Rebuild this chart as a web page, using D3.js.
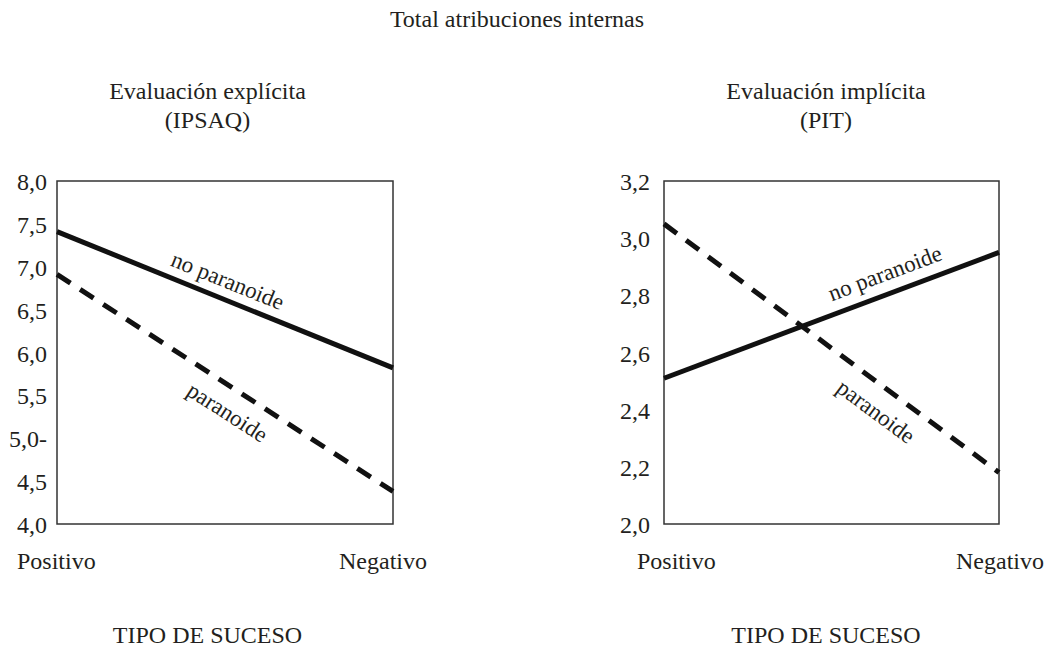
<!DOCTYPE html>
<html>
<head>
<meta charset="utf-8">
<script src="https://cdn.jsdelivr.net/npm/d3@7"></script>
<style>
  body { margin: 0; background: #fff; }
  text { font-family: "Liberation Serif", "Times New Roman", serif; fill: #231f20; }
</style>
</head>
<body>
<div id="chart"></div>
<script>
// Data
const categories = ["Positivo", "Negativo"];
const seriesNames = ["no paranoide", "paranoide"];

const explicitNoParanoide = [7.41, 5.82];
const explicitParanoide = [6.91, 4.38];
const explicitTicks = [4.0, 4.5, 5.0, 5.5, 6.0, 6.5, 7.0, 7.5, 8.0];
const explicitTickLabels = ["4,0", "4,5", "5,0-", "5,5", "6,0", "6,5", "7,0", "7,5", "8,0"];

const implicitNoParanoide = [2.51, 2.95];
const implicitParanoide = [3.05, 2.18];
const implicitTicks = [2.0, 2.2, 2.4, 2.6, 2.8, 3.0, 3.2];
const implicitTickLabels = ["2,0", "2,2", "2,4", "2,6", "2,8", "3,0", "3,2"];

const svgWidth = 1062,
  svgHeight = 648;

const svg = d3
  .select("#chart")
  .append("svg")
  .attr("width", svgWidth)
  .attr("height", svgHeight);

svg
  .append("text")
  .attr("x", 517)
  .attr("y", 27)
  .attr("text-anchor", "middle")
  .style("font-size", "24px")
  .text("Total atribuciones internas");

// Panel layout (positions only)
const panels = [
  {
    title: ["Evaluación explícita", "(IPSAQ)"],
    titleX: 207.5,
    left: 57,
    right: 393,
    domain: [4, 8],
    ticks: explicitTicks,
    tickLabels: explicitTickLabels,
    tickX: 47,
    series: [explicitNoParanoide, explicitParanoide],
    catStart: 17,
    catEnd: 427,
    labels: [
      { t: 0.487, off: -11 },
      { t: 0.545, off: 31 },
    ],
  },
  {
    title: ["Evaluación implícita", "(PIT)"],
    titleX: 826,
    left: 664,
    right: 999,
    domain: [2, 3.2],
    ticks: implicitTicks,
    tickLabels: implicitTickLabels,
    tickX: 650,
    series: [implicitNoParanoide, implicitParanoide],
    catStart: 637,
    catEnd: 1044,
    labels: [
      { t: 0.681, off: -13 },
      { t: 0.676, off: 32 },
    ],
  },
];

const plotTop = 181,
  plotBottom = 524;

panels.forEach((p) => {
  const g = svg.append("g");

  const x = d3.scalePoint().domain(categories).range([p.left, p.right]);
  const y = d3.scaleLinear().domain(p.domain).range([plotBottom, plotTop]);

  // subtitle
  g.append("text")
    .attr("x", p.titleX)
    .attr("y", 99)
    .attr("text-anchor", "middle")
    .style("font-size", "24px")
    .text(p.title[0]);
  g.append("text")
    .attr("x", p.titleX)
    .attr("y", 128)
    .attr("text-anchor", "middle")
    .style("font-size", "24px")
    .text(p.title[1]);

  // frame
  g.append("rect")
    .attr("x", p.left)
    .attr("y", plotTop)
    .attr("width", p.right - p.left)
    .attr("height", plotBottom - plotTop)
    .attr("fill", "none")
    .attr("stroke", "#333")
    .attr("stroke-width", 1.5);

  // y tick labels
  g.selectAll(".tick")
    .data(p.ticks)
    .enter()
    .append("text")
    .attr("class", "tick")
    .attr("x", p.tickX)
    .attr("y", (d) => y(d))
    .attr("dy", "0.38em")
    .attr("text-anchor", "end")
    .style("font-size", "24px")
    .text((d, i) => p.tickLabels[i]);

  // category labels
  g.append("text")
    .attr("x", p.catStart)
    .attr("y", 569)
    .attr("text-anchor", "start")
    .style("font-size", "24px")
    .text(categories[0]);
  g.append("text")
    .attr("x", p.catEnd)
    .attr("y", 569)
    .attr("text-anchor", "end")
    .style("font-size", "24px")
    .text(categories[1]);

  g.append("text")
    .attr("x", p.titleX)
    .attr("y", 643)
    .attr("text-anchor", "middle")
    .style("font-size", "24px")
    .text("TIPO DE SUCESO");

  const line = d3
    .line()
    .x((d, i) => x(categories[i]))
    .y((d) => y(d));

  p.series.forEach((values, s) => {
    g.append("path")
      .datum(values)
      .attr("d", line)
      .attr("fill", "none")
      .attr("stroke", "#111")
      .attr("stroke-width", 5)
      .attr("stroke-dasharray", s === 1 ? "16,11.5" : null);

    // label along the line
    const x0 = x(categories[0]),
      x1 = x(categories[1]);
    const y0 = y(values[0]),
      y1 = y(values[1]);
    const angle = (Math.atan2(y1 - y0, x1 - x0) * 180) / Math.PI;
    const lab = p.labels[s];
    const cx = x0 + (x1 - x0) * lab.t;
    const cy = y0 + (y1 - y0) * lab.t;

    g.append("text")
      .attr("transform", `translate(${cx},${cy}) rotate(${angle})`)
      .attr("x", 0)
      .attr("y", lab.off)
      .attr("text-anchor", "middle")
      .style("font-size", "23px")
      .text(seriesNames[s]);
  });
});
</script>
</body>
</html>
